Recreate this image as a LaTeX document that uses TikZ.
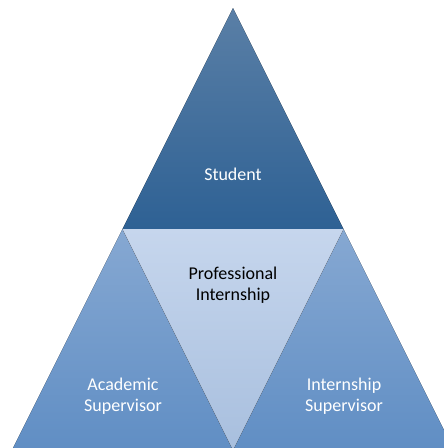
\documentclass[tikz,border=0pt]{standalone}
\usepackage{fontspec}
\setmainfont{Carlito}
\usepackage{tikz}
\usetikzlibrary{positioning}
\usepackage{xcolor}
\definecolor{pyrdark}{RGB}{46,97,148}
\definecolor{pyrdarktop}{RGB}{90,127,166}
\definecolor{pyrmid}{RGB}{96,142,196}
\definecolor{pyrmidtop}{RGB}{134,168,210}
\definecolor{pyrlight}{RGB}{168,191,222}
\definecolor{pyrlighttop}{RGB}{198,214,237}
\tikzstyle{toptri} = [top color=pyrdarktop, bottom color=pyrdark]
\tikzstyle{sidetri} = [top color=pyrmidtop, bottom color=pyrmid]
\tikzstyle{midtri} = [top color=pyrlighttop, bottom color=pyrlight]
\tikzstyle{label} = [text centered, align=center, font=\fontsize{18}{20.5}\selectfont]

\begin{document}
\begin{tikzpicture}[x=1pt, y=-1pt]
\useasboundingbox (0,0) rectangle (444,448);
\clip (0,0) rectangle (444,448);

% Student
\fill[toptri] (233,8) -- (343.5,229) -- (122.5,229) -- cycle;

% Academic Supervisor
\fill[sidetri] (122.5,229) -- (233,450) -- (12,450) -- cycle;

% Internship Supervisor
\fill[sidetri] (343.5,229) -- (454,450) -- (233,450) -- cycle;

% Professional Internship
\fill[midtri] (122.5,229) -- (343.5,229) -- (233,450) -- cycle;

\node[label, text=white] (student) at (233,174) {Student};
\node[label, text=black] (intern) at (233,285) {Professional\\Internship};
\node[label, text=white] (academic) at (123,396) {Academic\\Supervisor};
\node[label, text=white] (supervisor) at (344,396) {Internship\\Supervisor};
\end{tikzpicture}
\end{document}
